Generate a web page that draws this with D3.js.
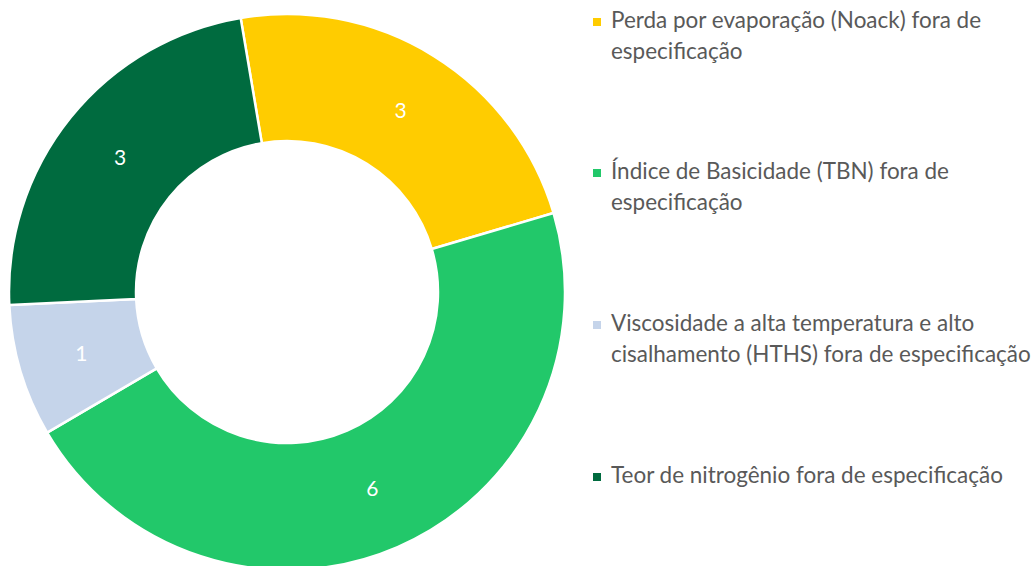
<!DOCTYPE html>
<html>
<head>
<meta charset="utf-8">
<script src="https://cdn.jsdelivr.net/npm/d3@7"></script>
<style>
  html, body { margin: 0; padding: 0; background: #ffffff; }
  svg { display: block; }
</style>
</head>
<body>
<svg id="chart" width="1031" height="566"></svg>
<script>
// Ocorrências por tipo de não conformidade
const categories = [
  "Perda por evaporação (Noack) fora de especificação",
  "Índice de Basicidade (TBN) fora de especificação",
  "Viscosidade a alta temperatura e alto cisalhamento (HTHS) fora de especificação",
  "Teor de nitrogênio fora de especificação"
];
const legendLines = [
  ["Perda por evaporação (Noack) fora de", "especificação"],
  ["Índice de Basicidade (TBN) fora de", "especificação"],
  ["Viscosidade a alta temperatura e alto", "cisalhamento (HTHS) fora de especificação"],
  ["Teor de nitrogênio fora de especificação"]
];
const values = [3, 6, 1, 3];
const colors = ["#FFCC00", "#22C86A", "#C5D4EA", "#006B3F"];

const svg = d3.select("#chart");
const fontFamily = "Lato, 'Open Sans', sans-serif";

const cx = 287, cy = 292;
const outerR = 278, innerR = 151;
const startDeg = -9.6;

const pie = d3.pie()
  .value(d => d)
  .sort(null)
  .startAngle(startDeg * Math.PI / 180)
  .endAngle((startDeg + 360) * Math.PI / 180);

const arc = d3.arc().innerRadius(innerR).outerRadius(outerR);

const g = svg.append("g").attr("transform", `translate(${cx},${cy})`);
const arcs = pie(values);

g.selectAll("path.slice")
  .data(arcs)
  .join("path")
  .attr("class", "slice")
  .attr("d", arc)
  .attr("fill", (d, i) => colors[i])
  .attr("stroke", "#ffffff")
  .attr("stroke-width", 2.5)
  .attr("stroke-linejoin", "round");

g.selectAll("text.value")
  .data(arcs)
  .join("text")
  .attr("class", "value")
  .attr("transform", d => `translate(${arc.centroid(d)})`)
  .attr("text-anchor", "middle")
  .attr("dy", "0.36em")
  .attr("fill", "#ffffff")
  .attr("font-family", fontFamily)
  .attr("font-size", 21)
  .text(d => d.data);

// Legend
const legend = svg.append("g").attr("font-family", fontFamily).attr("fill", "#595959");
const itemBaselines = [28, 179, 331, 483];
const lineGap = 31;
const textX = 611;

const items = legend.selectAll("g.item")
  .data(categories)
  .join("g")
  .attr("class", "item");

items.append("rect")
  .attr("x", 593)
  .attr("y", (d, i) => itemBaselines[i] - 10)
  .attr("width", 8)
  .attr("height", 8)
  .attr("fill", (d, i) => colors[i]);

const texts = items.append("text")
  .attr("x", textX)
  .attr("y", (d, i) => itemBaselines[i])
  .attr("font-size", 19);

texts.selectAll("tspan")
  .data((d, i) => legendLines[i])
  .join("tspan")
  .attr("x", textX)
  .attr("dy", (d, j) => j === 0 ? 0 : lineGap)
  .text(d => d);

// fit legend font so the longest single line spans the legend column
const ref = texts.filter((d, i) => i === 3).node();
const w = ref.getComputedTextLength();
const targetW = 392;
const fs = 19 * targetW / w;
texts.attr("font-size", fs);
</script>
</body>
</html>
